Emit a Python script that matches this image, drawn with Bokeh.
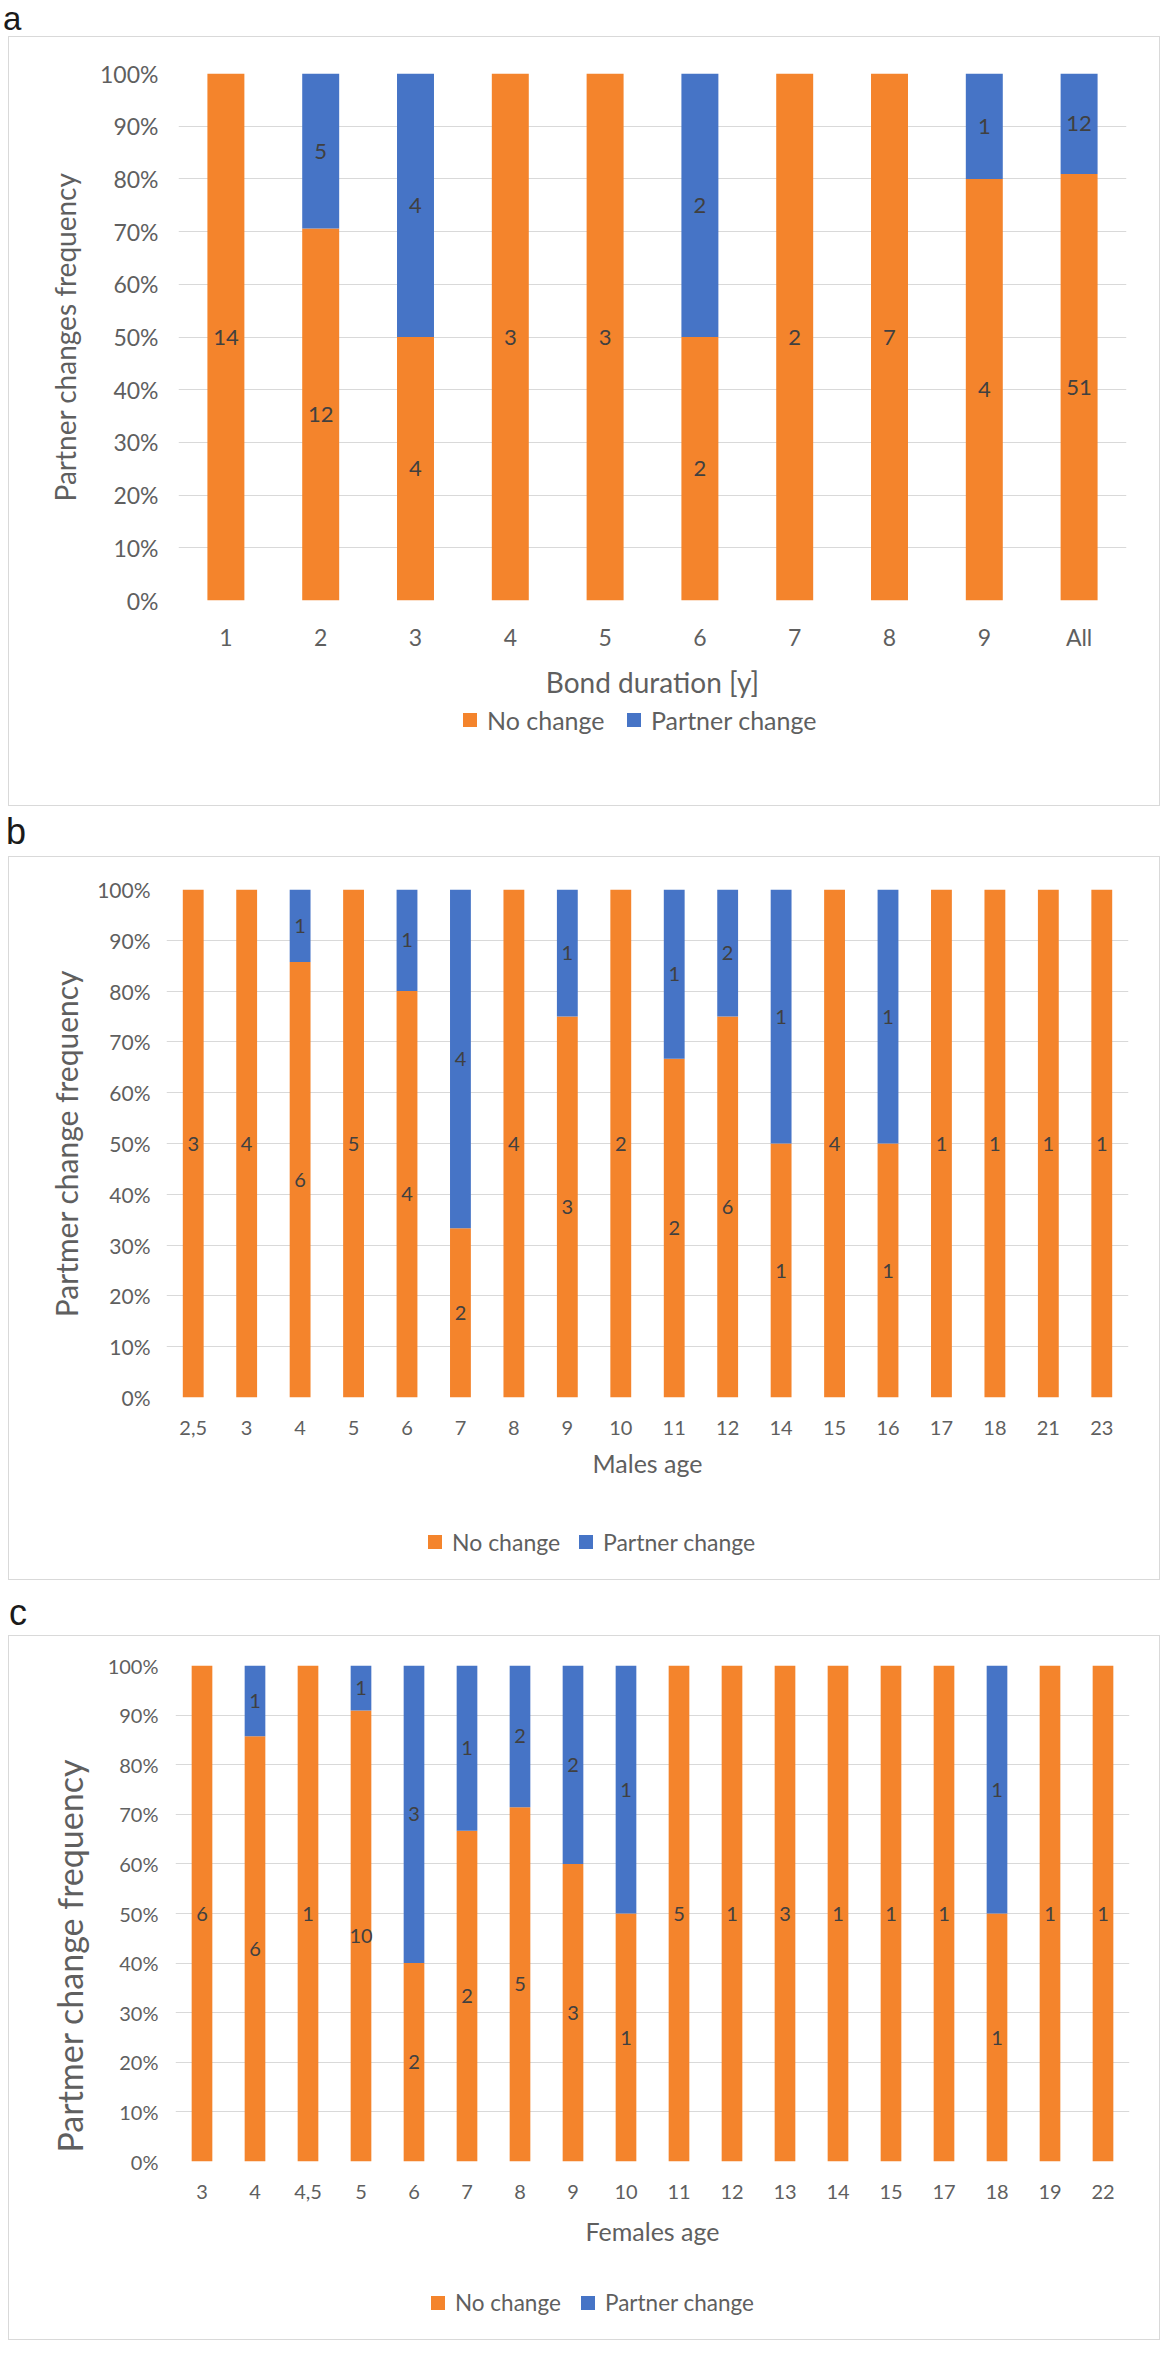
from bokeh.plotting import figure
from bokeh.models import (ColumnDataSource, FactorRange, Range1d, FixedTicker,
                          NumeralTickFormatter, Legend, LegendItem, Title, Div)
from bokeh.layouts import column
from bokeh.embed import file_html
from bokeh.resources import INLINE
from bokeh.core.properties import value

# ---------------- data ----------------
a_cats = ["1", "2", "3", "4", "5", "6", "7", "8", "9", "All"]
a_no_change = [14, 12, 4, 3, 3, 2, 2, 7, 4, 51]
a_partner_change = [0, 5, 4, 0, 0, 2, 0, 0, 1, 12]

b_cats = ["2,5", "3", "4", "5", "6", "7", "8", "9", "10", "11", "12", "14",
          "15", "16", "17", "18", "21", "23"]
b_no_change = [3, 4, 6, 5, 4, 2, 4, 3, 2, 2, 6, 1, 4, 1, 1, 1, 1, 1]
b_partner_change = [0, 0, 1, 0, 1, 4, 0, 1, 0, 1, 2, 1, 0, 1, 0, 0, 0, 0]

c_cats = ["3", "4", "4,5", "5", "6", "7", "8", "9", "10", "11", "12", "13",
          "14", "15", "17", "18", "19", "22"]
c_no_change = [6, 6, 1, 10, 2, 2, 5, 3, 1, 5, 1, 3, 1, 1, 1, 1, 1, 1]
c_partner_change = [0, 1, 0, 1, 3, 1, 2, 2, 1, 0, 0, 0, 0, 0, 0, 1, 0, 0]

y_ticks = [0.0, 0.1, 0.2, 0.3, 0.4, 0.5, 0.6, 0.7, 0.8, 0.9, 1.0]
series_names = ["No change", "Partner change"]

ORANGE = "#F4842C"
BLUE = "#4674C6"
GRID = "#D9D9D9"
AXIS_TXT = "#5F5F5F"
LAB_TXT = "#404040"
FONT = "Lato"
W = 1150


def make_main(cats, nc, pc, cfg):
    tot = [n + q for n, q in zip(nc, pc)]
    frac = [n / t for n, t in zip(nc, tot)]
    src = ColumnDataSource(dict(cat=cats, zero=[0.0] * len(cats), mid=frac,
                                one=[1.0] * len(cats)))
    p = figure(x_range=FactorRange(factors=cats, range_padding=0),
               y_range=Range1d(0, 1),
               width=W, height=cfg["height"],
               min_border_left=cfg["left"], min_border_right=cfg["right"],
               min_border_top=cfg["top"], min_border_bottom=cfg["bottom"],
               output_backend="svg", toolbar_location=None)
    p.outline_line_color = None
    p.background_fill_color = "white"
    p.border_fill_color = "white"

    p.vbar(x="cat", bottom="zero", top="mid", width=0.39, source=src,
           fill_color=ORANGE, line_color=None)
    p.vbar(x="cat", bottom="mid", top="one", width=0.39, source=src,
           fill_color=BLUE, line_color=None)

    lx, ly, lt = [], [], []
    for c, n, q, f in zip(cats, nc, pc, frac):
        if n > 0:
            lx.append(c); ly.append(f / 2); lt.append(str(n))
        if q > 0:
            lx.append(c); ly.append((f + 1) / 2); lt.append(str(q))
    p.text(x=lx, y=ly, text=lt, text_align="center", text_baseline="middle",
           text_font=value(FONT), text_font_size=cfg["lab_fs"], text_color=LAB_TXT)

    tk = FixedTicker(ticks=y_ticks)
    p.yaxis[0].ticker = tk
    p.ygrid[0].ticker = tk
    p.ygrid.grid_line_color = GRID
    p.ygrid.grid_line_width = 1
    p.xgrid.grid_line_color = None
    p.yaxis.formatter = NumeralTickFormatter(format="0%")

    for ax in (p.xaxis[0], p.yaxis[0]):
        ax.axis_line_color = None
        ax.major_tick_line_color = None
        ax.minor_tick_line_color = None
        ax.major_tick_out = 0
        ax.major_tick_in = 0
        ax.major_label_text_font = FONT
        ax.major_label_text_color = AXIS_TXT
        ax.axis_label_text_font = FONT
        ax.axis_label_text_color = AXIS_TXT
        ax.axis_label_text_font_style = "normal"

    p.yaxis.major_label_text_font_size = cfg["ytick_fs"]
    p.yaxis.major_label_standoff = cfg["ytick_standoff"]
    if cfg.get("ytitle_as_title"):
        p.add_layout(Title(text=cfg["ytitle"], align="left", offset=cfg["ytitle_offset"],
                           standoff=cfg["ytitle_standoff"], text_font=FONT,
                           text_font_size=cfg["ytitle_fs"], text_font_style="normal",
                           text_color=AXIS_TXT), "left")
    else:
        p.yaxis.axis_label = cfg["ytitle"]
        p.yaxis.axis_label_text_font_size = cfg["ytitle_fs"]
        p.yaxis.axis_label_standoff = cfg["ytitle_standoff"]

    p.xaxis.major_label_text_font_size = cfg["xtick_fs"]
    p.xaxis.major_label_standoff = cfg["xtick_standoff"]
    p.xaxis.axis_label = cfg["xtitle"]
    p.xaxis.axis_label_text_font_size = cfg["xtitle_fs"]
    p.xaxis.axis_label_standoff = cfg["xtitle_standoff"]
    return p


def make_legend(cfg):
    h = cfg["leg_h"]
    q = figure(width=W, height=h, x_range=Range1d(0, 1), y_range=Range1d(0, 1),
               min_border_left=cfg["left"], min_border_right=cfg["right"],
               min_border_top=0, min_border_bottom=0,
               x_axis_type=None, y_axis_type=None,
               output_backend="svg", toolbar_location=None)
    q.outline_line_color = None
    q.background_fill_color = "white"
    q.border_fill_color = "white"
    r1 = q.scatter(x=[-5], y=[-5], marker="square", size=10,
                   fill_color=ORANGE, line_color=None)
    r2 = q.scatter(x=[-5], y=[-5], marker="square", size=10,
                   fill_color=BLUE, line_color=None)
    for r, name, lx in ((r1, series_names[0], cfg["leg_x1"]),
                        (r2, series_names[1], cfg["leg_x2"])):
        leg = Legend(items=[LegendItem(label=name, renderers=[r])],
                     orientation="horizontal", location=(lx, cfg["leg_y"]),
                     glyph_width=35, glyph_height=35, label_standoff=cfg["leg_standoff"],
                     padding=0, margin=0, spacing=0,
                     border_line_color=None, background_fill_alpha=0,
                     label_text_font=FONT, label_text_font_size=cfg["leg_fs"],
                     label_text_color=AXIS_TXT, label_text_baseline="middle")
        q.add_layout(leg, "center")
    return q


cfg_a = dict(height=664, left=169, right=33, top=36, bottom=98,
             ytick_fs="23px", ytick_standoff=20,
             ytitle="Partner changes frequency", ytitle_fs="28px", ytitle_standoff=15,
             xtick_fs="23px", xtick_standoff=22,
             xtitle="Bond duration [y]", xtitle_fs="28px", xtitle_standoff=11,
             lab_fs="22px",
             leg_h=104, leg_fs="25px", leg_x1=274, leg_x2=438, leg_y=68, leg_standoff=-4)

cfg_b = dict(height=640, left=157, right=31, top=32, bottom=100,
             ytick_fs="21px", ytick_standoff=16,
             ytitle="Partmer change frequency", ytitle_fs="30px", ytitle_standoff=10,
             xtick_fs="20px", xtick_standoff=23,
             xtitle="Males age", xtitle_fs="25px", xtitle_standoff=10,
             lab_fs="20px",
             leg_h=82, leg_fs="23px", leg_x1=251, leg_x2=402, leg_y=20, leg_standoff=-5)

cfg_c = dict(height=621, left=166, right=30, top=29, bottom=96,
             ytick_fs="20px", ytick_standoff=17,
             ytitle="Partmer change frequency", ytitle_as_title=True,
             ytitle_fs="34px", ytitle_offset=9, ytitle_standoff=30,
             xtick_fs="20px", xtick_standoff=23,
             xtitle="Females age", xtitle_fs="25px", xtitle_standoff=14,
             lab_fs="20px",
             leg_h=82, leg_fs="22.5px", leg_x1=245, leg_x2=395, leg_y=19, leg_standoff=-4)


def panel(cats, nc, pc, cfg):
    return column(make_main(cats, nc, pc, cfg), make_legend(cfg), spacing=0,
                  margin=(0, 0, 0, 9), styles={"outline": "1px solid #D9D9D9"})


box_a = panel(a_cats, a_no_change, a_partner_change, cfg_a)
box_b = panel(b_cats, b_no_change, b_partner_change, cfg_b)
box_c = panel(c_cats, c_no_change, c_partner_change, cfg_c)


def letter(txt, h, top, left, fs, lh):
    html = ('<div style="position:relative; top:%dpx; left:%dpx; '
            'font-family:\'Liberation Sans\', Arial, sans-serif; font-size:%dpx; '
            'line-height:%dpx; color:#1A1A1A;">%s</div>') % (top, left, fs, lh, txt)
    return Div(text=html, width=W, height=h, margin=(0, 0, 0, 0))


d_a = letter("a", 37, 0, 3, 33, 37)
d_b = letter("b", 52, 6, 6, 36, 41)
d_c = letter("c", 57, 13, 9, 36, 41)

page = column(d_a, box_a, d_b, box_b, d_c, box_c, spacing=0)

open("out.html", "w").write(file_html(page, INLINE))
